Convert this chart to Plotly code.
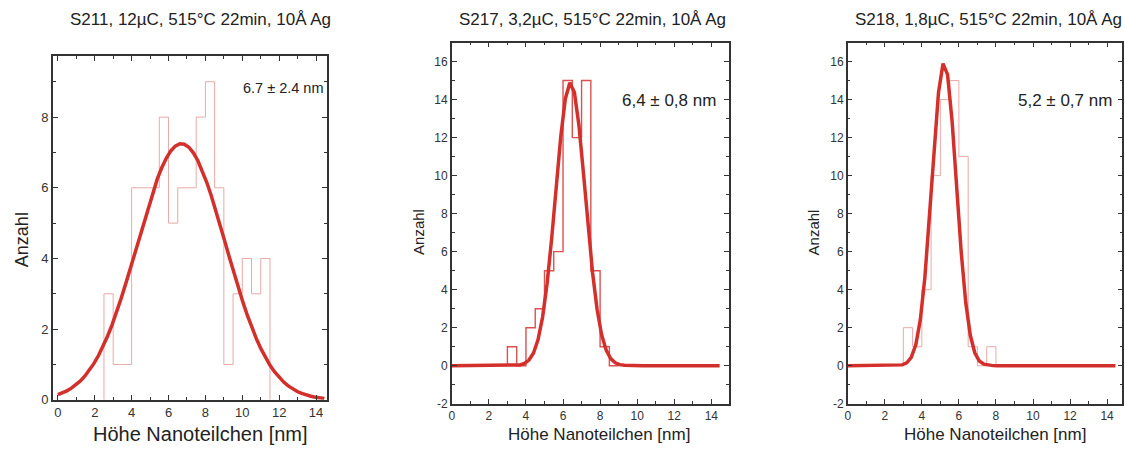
import numpy as np
import plotly.graph_objects as go

W, H = 1125, 454

# ---------------- data ----------------
titles = ["S211, 12µC, 515°C 22min, 10Å Ag",
          "S217, 3,2µC, 515°C 22min, 10Å Ag",
          "S218, 1,8µC, 515°C 22min, 10Å Ag"]
fit_labels = ["6.7 ± 2.4 nm", "6,4 ± 0,8 nm", "5,2 ± 0,7 nm"]

bin_width = 0.5
p1_bin_start = 2.5
p1_counts = [3, 1, 1, 6, 6, 6, 8, 5, 6, 6, 8, 9, 6, 1, 3, 4, 3, 4]
p2_bin_start = 3.0
p2_counts = [1, 0, 2, 3, 5, 6, 15, 12, 15, 5, 1, 0]
p3_bin_start = 3.0
p3_counts = [2, 1, 4, 10, 14, 15, 11, 1, 0, 1]

# Gaussian fit parameters (amplitude, centre, sigma)
p1_fit = (7.25, 6.7, 2.4)
p2_fit = (14.9, 6.4, 0.8)
p3_fit = (15.95, 5.2, 0.66)
fit_x_start, fit_x_stop, fit_n = 0.0, 14.45, 60

x_ticks = [0, 2, 4, 6, 8, 10, 12, 14]
p1_y_ticks = [0, 2, 4, 6, 8]
p23_y_ticks = [-2, 0, 2, 4, 6, 8, 10, 12, 14, 16]

# ---------------- layout geometry (pixels) ----------------
boxes = [(50, 325, 57, 407), (450, 727.5, 43.3, 411), (847, 1122.3, 43.3, 411)]
x_ranges = [[-0.27, 14.6], [0, 14.93], [0, 14.82]]
y_ranges = [[0, 9.73], [-2, 17], [-2, 17]]

CURVE = "#d4302b"
HIST = ["#eba8a8", "#dc5050", "#eba8a8"]
HIST_W = [1, 1.4, 1]

fig = go.Figure()

def px_x(p):
    return p / W

def px_y(p):
    return 1 - p / H

datasets = [(p1_bin_start, p1_counts, p1_fit),
            (p2_bin_start, p2_counts, p2_fit),
            (p3_bin_start, p3_counts, p3_fit)]

fx = np.linspace(fit_x_start, fit_x_stop, fit_n)
for i, (start, counts, fit) in enumerate(datasets):
    n = i + 1
    xa = "x" if n == 1 else f"x{n}"
    ya = "y" if n == 1 else f"y{n}"
    edges = [start + k * bin_width for k in range(len(counts) + 1)]
    xs = [edges[0]] + edges
    ys = [0] + list(counts) + [0]
    fig.add_trace(go.Scatter(x=xs, y=ys, mode="lines", line_shape="hv",
                             line=dict(color=HIST[i], width=HIST_W[i]),
                             xaxis=xa, yaxis=ya, showlegend=False, hoverinfo="skip"))
    A, mu, s = fit
    fy = A * np.exp(-(fx - mu) ** 2 / (2 * s ** 2))
    fig.add_trace(go.Scatter(x=fx, y=fy, mode="lines",
                             line=dict(color=CURVE, width=3.5),
                             xaxis=xa, yaxis=ya, showlegend=False))

tick_font = [dict(family="Liberation Sans, Arial", size=13, color="#333"),
             dict(family="Liberation Sans, Arial", size=12, color="#333"),
             dict(family="Liberation Sans, Arial", size=12, color="#333")]

layout = dict(width=W, height=H, margin=dict(l=0, r=0, t=0, b=0),
              paper_bgcolor="white", plot_bgcolor="white", showlegend=False)

for i in range(3):
    n = i + 1
    l, r, t, b = boxes[i]
    common = dict(showgrid=False, zeroline=False, showline=True, linecolor="#333",
                  linewidth=1.5, mirror="allticks", ticks="inside", ticklen=5,
                  tickwidth=1.3, tickcolor="#333", tickfont=tick_font[i])
    xkey = "xaxis" if n == 1 else f"xaxis{n}"
    ykey = "yaxis" if n == 1 else f"yaxis{n}"
    layout[xkey] = dict(domain=[px_x(l), px_x(r)], range=x_ranges[i],
                        anchor="y" if n == 1 else f"y{n}",
                        tickvals=x_ticks, ticktext=[str(v) for v in x_ticks],
                        minor=dict(dtick=1, tick0=0, ticks="inside", ticklen=3,
                                   tickcolor="#333", tickwidth=1.2),
                        **common)
    yt = p1_y_ticks if n == 1 else p23_y_ticks
    layout[ykey] = dict(domain=[px_y(b), px_y(t)], range=y_ranges[i],
                        anchor="x" if n == 1 else f"x{n}",
                        tickvals=yt, ticktext=[str(v) for v in yt],
                        minor=dict(dtick=1, tick0=0, ticks="inside", ticklen=3,
                                   tickcolor="#333", tickwidth=1.2),
                        **common)

fig.update_layout(**layout)

ann = []
font = "Liberation Sans, Arial"
title_pos = [(198, 20), (591, 19.5), (988.5, 19.5)]
for i, (x, y) in enumerate(title_pos):
    ann.append(dict(text=titles[i], x=px_x(x), y=px_y(y), xref="paper", yref="paper",
                    xanchor="center", yanchor="middle", showarrow=False,
                    font=dict(family=font, size=17, color="#222")))
fit_pos = [(281.7, 89.5, 14.5), (668, 102.7, 17), (1065.3, 102.7, 17)]
for i, (x, y, s) in enumerate(fit_pos):
    ann.append(dict(text=fit_labels[i], x=px_x(x), y=px_y(y), xref="paper", yref="paper",
                    xanchor="center", yanchor="middle", showarrow=False,
                    font=dict(family=font, size=s, color="#222")))
xt_pos = [(198.5, 441.5, 20), (598, 442.5, 17), (995, 442.5, 17)]
for x, y, s in xt_pos:
    ann.append(dict(text="Höhe Nanoteilchen [nm]", x=px_x(x), y=px_y(y), xref="paper",
                    yref="paper", xanchor="center", yanchor="middle", showarrow=False,
                    font=dict(family=font, size=s, color="#222")))
yt_pos = [(19, 243.5, 18), (416.7, 236.5, 15), (812.3, 236.5, 15)]
for x, y, s in yt_pos:
    ann.append(dict(text="Anzahl", x=px_x(x), y=px_y(y), xref="paper", yref="paper",
                    xanchor="center", yanchor="middle", showarrow=False, textangle=-90,
                    font=dict(family=font, size=s, color="#222")))
fig.update_layout(annotations=ann)

fig.write_html("out.html")
